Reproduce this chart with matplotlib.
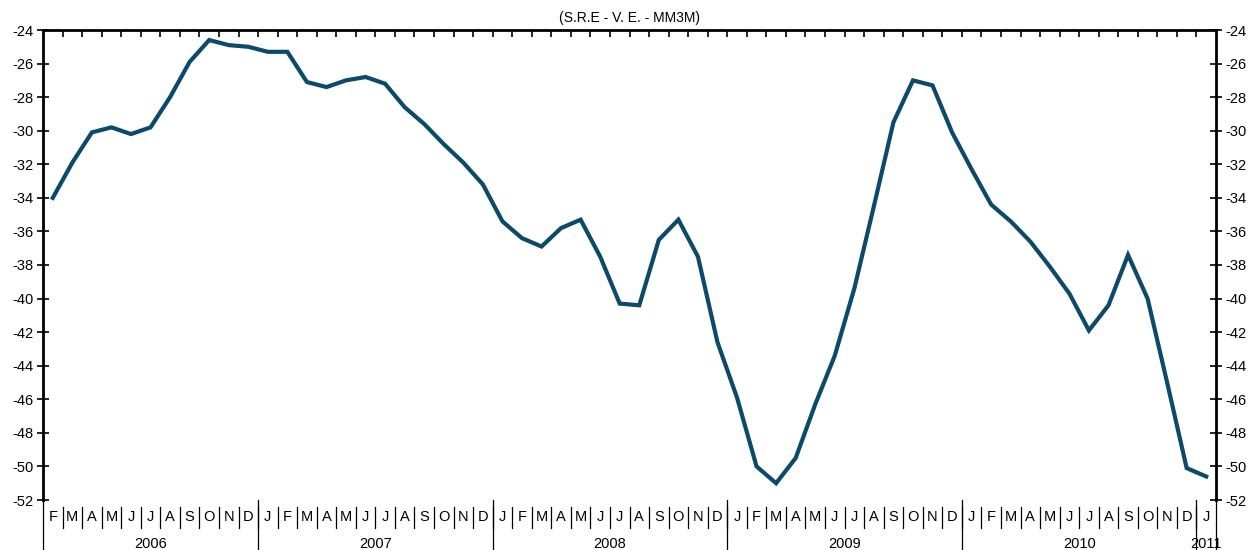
import matplotlib
matplotlib.use("Agg")
import matplotlib.pyplot as plt
import matplotlib.transforms as mtransforms

plt.rcParams['font.family'] = ['Liberation Sans', 'DejaVu Sans']
plt.rcParams['axes.unicode_minus'] = False

# monthly series, Feb 2006 .. Jan 2011
months = ["F", "M", "A", "M", "J", "J", "A", "S", "O", "N", "D"] + \
         ["J", "F", "M", "A", "M", "J", "J", "A", "S", "O", "N", "D"] * 4 + ["J"]
years = ["2006", "2007", "2008", "2009", "2010", "2011"]
year_months = [11, 12, 12, 12, 12, 1]
values = [-34.0, -31.9, -30.1, -29.8, -30.2, -29.8, -28.0, -25.9, -24.6, -24.9, -25.0,
          -25.3, -25.3, -27.1, -27.4, -27.0, -26.8, -27.2, -28.6, -29.6, -30.8, -31.9, -33.2,
          -35.4, -36.4, -36.9, -35.8, -35.3, -37.5, -40.3, -40.4, -36.5, -35.3, -37.5, -42.6,
          -45.9, -50.0, -51.0, -49.5, -46.3, -43.4, -39.4, -34.5, -29.5, -27.0, -27.3, -30.1,
          -32.3, -34.4, -35.4, -36.6, -38.1, -39.7, -41.9, -40.4, -37.4, -40.0, -45.0, -50.1,
          -50.6]

fig = plt.figure(figsize=(12.53, 5.5), dpi=100)
ax = fig.add_axes([43 / 1253, 50 / 550, (1216 - 43) / 1253, 470 / 550])

x = list(range(len(values)))
ax.plot(x, values, color="#0b4a6a", lw=3.0, solid_joinstyle="miter")

n = len(values)
ax.set_xlim(-0.5, n - 0.5)
ax.set_ylim(-52, -24)
ax.set_yticks(range(-52, -23, 2))
ax.tick_params(axis="y", which="both", direction="inout", length=8, width=1.2,
               labelsize=10.5, left=True, right=True, labelleft=True, labelright=True,
               pad=3)

# top ticks at month boundaries
ax.set_xticks([i + 0.5 for i in range(n - 1)])
ax.tick_params(axis="x", direction="in", length=5, width=1.2, top=True, bottom=False,
               labeltop=False, labelbottom=False)

ax.spines["bottom"].set_visible(False)
for s in ["left", "right", "top"]:
    ax.spines[s].set_linewidth(2.0)

trans = mtransforms.blended_transform_factory(ax.transData, ax.transAxes)
px = 1 / 470.0
for i, m in enumerate(months):
    ax.text(i, -17 * px, m, transform=trans, ha="center", va="center", fontsize=10.5)
    if i > 0:
        ax.plot([i - 0.5, i - 0.5], [-7 * px, -28 * px], transform=trans, color="black",
                lw=0.9, clip_on=False)

start = 0
for y, cnt in zip(years, year_months):
    center = start + (cnt - 1) / 2.0
    ax.text(center, -44 * px, y, transform=trans, ha="center", va="center", fontsize=10.5)
    ax.plot([start - 0.5, start - 0.5], [0, -50 * px], transform=trans, color="black",
            lw=0.9, clip_on=False)
    start += cnt
ax.plot([n - 0.5, n - 0.5], [0, -50 * px], transform=trans, color="black", lw=0.9,
        clip_on=False)

ax.set_title("(S.R.E - V. E. - MM3M)", fontsize=10, pad=6)

fig.savefig("out.png", dpi=100)
